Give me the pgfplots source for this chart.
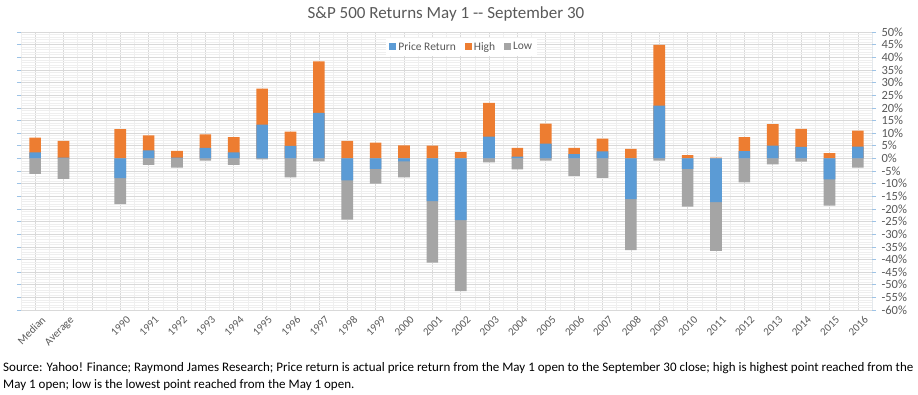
\documentclass[border=0pt]{standalone}
\usepackage{pgfplots}
\pgfplotsset{compat=1.18}
\usepackage{fontspec}
\setmainfont{Carlito}
\definecolor{cBlue}{HTML}{5B9BD5}
\definecolor{cOrange}{HTML}{ED7D31}
\definecolor{cGray}{HTML}{A5A5A5}
\definecolor{cText}{HTML}{595959}
\definecolor{cMajor}{HTML}{D9D9D9}
\definecolor{cMinor}{HTML}{EFEFEF}
\definecolor{cAxis}{HTML}{9DC3E6}
\begin{document}
\begin{tikzpicture}
\path[use as bounding box] (0,0) rectangle (918pt,395pt);
\begin{axis}[
  at={(21pt,85pt)}, anchor=south west,
  scale only axis, width=851pt, height=278pt,
  xmin=-0.5, xmax=29.5, ymin=-60, ymax=50,
  ybar, bar width=0.41, bar shift=0pt,
  axis line style={draw=none},
  xtick={0,...,29},
  xticklabels={Median,Average,,1990,1991,1992,1993,1994,1995,1996,1997,1998,1999,2000,2001,2002,2003,2004,2005,2006,2007,2008,2009,2010,2011,2012,2013,2014,2015,2016},
  xticklabel style={rotate=45, anchor=north east, font=\fontsize{11}{12}\selectfont, text=cText, inner sep=1pt, xshift=4pt, yshift=-4pt},
  minor xtick={-0.5,0.5,...,29.5},
  xmajorgrids, xminorgrids,
  major x tick style={draw=none}, minor x tick style={draw=none},
  ytick={-60,-55,...,50},
  yticklabels={-60\%,-55\%,-50\%,-45\%,-40\%,-35\%,-30\%,-25\%,-20\%,-15\%,-10\%,-5\%,0\%,5\%,10\%,15\%,20\%,25\%,30\%,35\%,40\%,45\%,50\%},
  yticklabel pos=right,
  yticklabel style={anchor=west, font=\fontsize{12.5}{13}\selectfont, text=cText, xshift=2pt},
  minor y tick num=4,
  ymajorgrids, yminorgrids,
  major grid style={cMajor, line width=0.6pt},
  minor grid style={cMinor, line width=0.5pt},
  ytick style={cAxis, line width=0.6pt},
  major tick length=4pt,
  minor y tick style={draw=none},
  ytick align=outside,
  legend style={at={(rel axis cs:0.518,0.946)}, anchor=center, draw=none, fill=white,
    legend columns=3, font=\fontsize{11.5}{12}\selectfont, text=cText,
    /tikz/every even column/.append style={column sep=7pt}},
  legend image code/.code={\fill[#1] (0pt,-3.5pt) rectangle (7pt,3.5pt);},
]
\addlegendimage{fill=cBlue, draw=none}
\addlegendentry{Price Return}
\addlegendimage{fill=cOrange, draw=none}
\addlegendentry{High}
\addlegendimage{fill=cGray, draw=none}
\addlegendentry{Low}
% High
\addplot[fill=cOrange, draw=none, forget plot] coordinates {
(0,8.2)(1,6.9)(3,11.6)(4,9.1)(5,3.0)(6,9.5)(7,8.4)(8,27.6)(9,10.6)(10,38.4)
(11,6.9)(12,6.2)(13,5.1)(14,5.0)(15,2.5)(16,22.0)(17,4.1)(18,13.7)(19,4.1)(20,7.8)
(21,3.8)(22,44.9)(23,1.3)(24,0.3)(25,8.4)(26,13.5)(27,11.7)(28,2.1)(29,11.0)};
% Low
\addplot[fill=cGray, draw=none, forget plot] coordinates {
(0,-6.1)(1,-8.1)(3,-18.1)(4,-2.6)(5,-3.7)(6,-0.9)(7,-2.6)(8,-0.4)(9,-7.5)(10,-1.2)
(11,-24.2)(12,-10.0)(13,-7.5)(14,-41.3)(15,-52.5)(16,-1.6)(17,-4.4)(18,-0.9)(19,-7.0)(20,-7.7)
(21,-36.3)(22,-0.9)(23,-19.1)(24,-36.6)(25,-9.5)(26,-2.4)(27,-1.3)(28,-18.7)(29,-3.7)};
% Price return
\addplot[fill=cBlue, draw=none, forget plot] coordinates {
(0,2.4)(1,0.3)(3,-7.8)(4,3.2)(5,0.3)(6,4.1)(7,2.4)(8,13.3)(9,4.9)(10,18.0)
(11,-8.7)(12,-4.2)(13,-1.2)(14,-16.9)(15,-24.4)(16,8.6)(17,0.7)(18,5.8)(19,1.7)(20,2.8)
(21,-16.1)(22,20.9)(23,-4.2)(24,-17.3)(25,2.9)(26,5.0)(27,4.5)(28,-8.3)(29,4.6)};
\draw[cAxis, line width=0.8pt] (rel axis cs:1,0) -- (rel axis cs:1,1);
\end{axis}
\node[anchor=base, font=\fontsize{17}{19}\selectfont, text=cText] at (446pt,376pt) {S\&P 500 Returns May 1 -{}- September 30};
\node[anchor=base west, font=\fontsize{13}{14}\selectfont, inner sep=0pt] at (3pt,23pt) {Source: Yahoo! Finance; Raymond James Research; Price return is actual price return from the May 1 open to the September 30 close; high is highest point reached from the};
\node[anchor=base west, font=\fontsize{13}{14}\selectfont, inner sep=0pt] at (3pt,6pt) {May 1 open; low is the lowest point reached from the May 1 open.};
\end{tikzpicture}
\end{document}
